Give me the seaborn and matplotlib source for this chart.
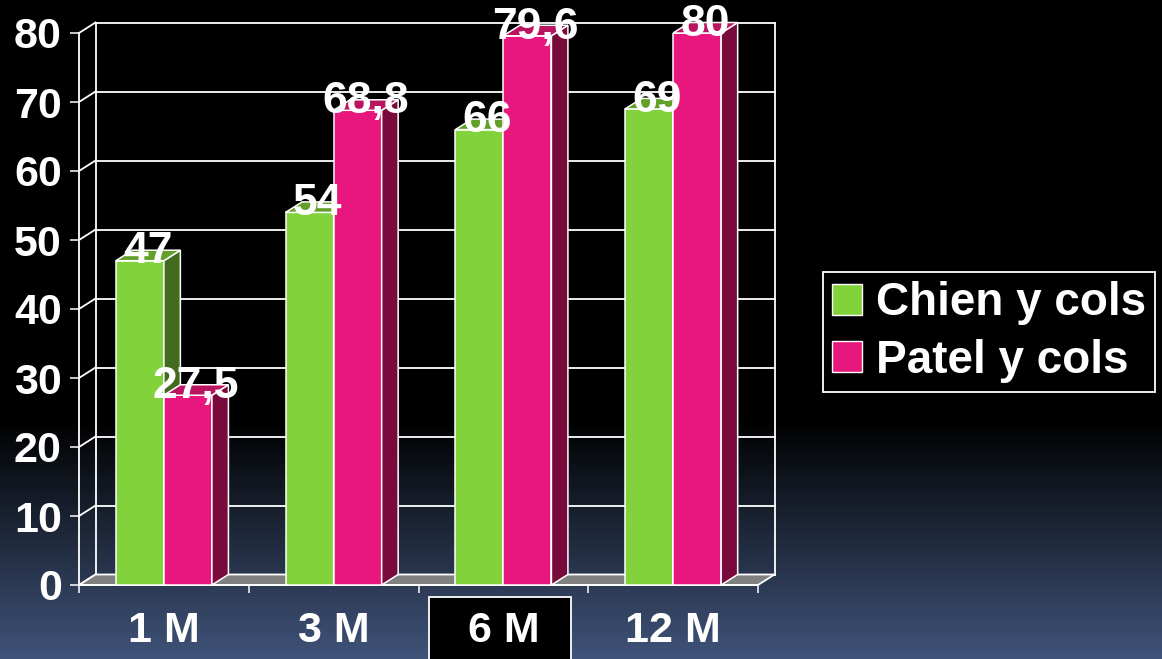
import numpy as np
import pandas as pd
import matplotlib
matplotlib.use("Agg")
import matplotlib.pyplot as plt
import matplotlib.transforms as mtransforms
from matplotlib.patches import Polygon, Rectangle, Patch
import seaborn as sns

# ---- data ----
categories = ["1 M", "3 M", "6 M", "12 M"]
series = ["Chien y cols", "Patel y cols"]
chien = [47, 54, 66, 69]
patel = [27.5, 68.8, 79.6, 80]
labels_chien = ["47", "54", "66", "69"]
labels_patel = ["27,5", "68,8", "79,6", "80"]
yticks = [0, 10, 20, 30, 40, 50, 60, 70, 80]

front_colors = ["#82D23C", "#E8177D"]
top_colors = ["#62A02A", "#B9145F"]
side_colors = ["#436B1F", "#7A0A3C"]

df = pd.DataFrame({
    "cat": categories * 2,
    "series": [series[0]] * 4 + [series[1]] * 4,
    "value": chien + patel,
})

plt.rcParams["font.family"] = ["Liberation Sans", "DejaVu Sans"]
plt.rcParams["font.weight"] = "bold"

W, H = 1162, 659
fig = plt.figure(figsize=(W / 100, H / 100), dpi=100)
fig.patch.set_facecolor("black")

# background gradient
bg = fig.add_axes([0, 0, 1, 1], zorder=-10)
bg.set_axis_off()
rows = np.arange(H)
t = np.clip((rows - 420) / (H - 420), 0, 1)
bottom = np.array([64, 84, 122]) / 255.0
grad = (t[:, None] * bottom[None, :])
img = np.repeat(grad[:, None, :], 2, axis=1)
bg.imshow(img, aspect="auto", extent=[0, 1, 0, 1], origin="upper")
bg.set_xlim(0, 1)
bg.set_ylim(0, 1)

left, right = 79 / W, 758 / W
bot, top = 1 - 585 / H, 1 - 33 / H
ax = fig.add_axes([left, bot, right - left, top - bot])
ax.set_facecolor("none")

sns.barplot(data=df, x="cat", y="value", hue="series", order=categories,
            hue_order=series, palette=front_colors, saturation=1,
            width=0.566, gap=0, edgecolor="white", linewidth=1.1,
            legend=False, ax=ax)

ax.set_xlim(-0.5, 3.5)
ax.set_ylim(0, 80)

# depth offset in data units
ax_w_px = (right - left) * W
ax_h_px = (top - bot) * H
DX = 16.5 / ax_w_px * 4.0
DY = 10.5 / ax_h_px * 80.0

wl = 1.3
# back wall grid lines and diagonals
for v in yticks:
    ax.plot([-0.5 + DX, 3.5 + DX], [v + DY, v + DY], color="white", lw=wl,
            zorder=1, clip_on=False)
    ax.plot([-0.5, -0.5 + DX], [v, v + DY], color="white", lw=wl,
            zorder=1, clip_on=False)
ax.plot([-0.5 + DX, -0.5 + DX], [DY, 80 + DY], color="white", lw=wl, zorder=1, clip_on=False)
ax.plot([3.5 + DX, 3.5 + DX], [DY, 80 + DY], color="white", lw=wl, zorder=1, clip_on=False)

# floor
floor = Polygon([(-0.5, 0), (3.5, 0), (3.5 + DX, DY), (-0.5 + DX, DY)], closed=True,
                facecolor="#808080", edgecolor="white", lw=wl, zorder=1.6, clip_on=False)
ax.add_patch(floor)

# 3D faces for bars
for hi, cont in enumerate(ax.containers):
    for bar in cont:
        bar.set_zorder(3 + hi)
        x0 = bar.get_x()
        w = bar.get_width()
        h = bar.get_height()
        side = Polygon([(x0 + w, 0), (x0 + w + DX, DY), (x0 + w + DX, h + DY), (x0 + w, h)],
                       closed=True, facecolor=side_colors[hi], edgecolor="white",
                       lw=1.1, zorder=3 + hi, clip_on=False)
        topf = Polygon([(x0, h), (x0 + DX, h + DY), (x0 + w + DX, h + DY), (x0 + w, h)],
                       closed=True, facecolor=top_colors[hi], edgecolor="white",
                       lw=1.1, zorder=3 + hi, clip_on=False)
        ax.add_patch(side)
        ax.add_patch(topf)

# value labels
for hi, (cont, labs) in enumerate(zip(ax.containers, [labels_chien, labels_patel])):
    for bar, lab in zip(cont, labs):
        cx = bar.get_x() + bar.get_width() / 2 + DX / 2
        ax.text(cx, bar.get_height() - 0.4, lab, ha="center", va="baseline",
                color="white", fontsize=32, fontweight="bold", zorder=10)

# spines & ticks
for s in ["top", "right"]:
    ax.spines[s].set_visible(False)
for s in ["left", "bottom"]:
    ax.spines[s].set_color("white")
    ax.spines[s].set_linewidth(wl)

ax.set_yticks(yticks)
ax.tick_params(axis="y", colors="white", length=6.5, width=1.1, pad=6,
               labelsize=31)
ax.set_xticks(range(len(categories)))
ax.set_xticklabels(categories)
ax.set_xticks([-0.5, 0.5, 1.5, 2.5, 3.5], minor=True)
ax.tick_params(axis="x", which="major", length=0, pad=19, labelsize=31,
               labelcolor="white")
ax.tick_params(axis="x", which="minor", length=6, width=1.1, color="white")
for lbl in ax.get_xticklabels() + ax.get_yticklabels():
    lbl.set_fontweight("bold")
ax.set_xlabel("")
ax.set_ylabel("")

# highlighted box behind "6 M"
blend = mtransforms.blended_transform_factory(ax.transData, fig.transFigure)
ax.add_patch(Rectangle((2 - 0.44, -0.05), 0.84, 0.05 + (1 - 597 / H), transform=blend,
                       facecolor="black", edgecolor="white", lw=wl, zorder=0.3,
                       clip_on=False))

# legend
handles = [Patch(facecolor=c, edgecolor="white", lw=1.0) for c in front_colors]
leg = fig.legend(handles, series, loc="upper left",
                 bbox_to_anchor=(823 / W, 1 - 272 / H), bbox_transform=fig.transFigure,
                 frameon=True, facecolor="black", edgecolor="white", fancybox=False,
                 framealpha=1, borderaxespad=0, prop={"size": 33, "weight": "bold"},
                 labelcolor="white", handlelength=0.66, handleheight=0.66,
                 handletextpad=0.3, borderpad=0.2, labelspacing=0.3)
leg.get_frame().set_linewidth(1.3)

fig.savefig("out.png", dpi=100, facecolor=fig.get_facecolor())
